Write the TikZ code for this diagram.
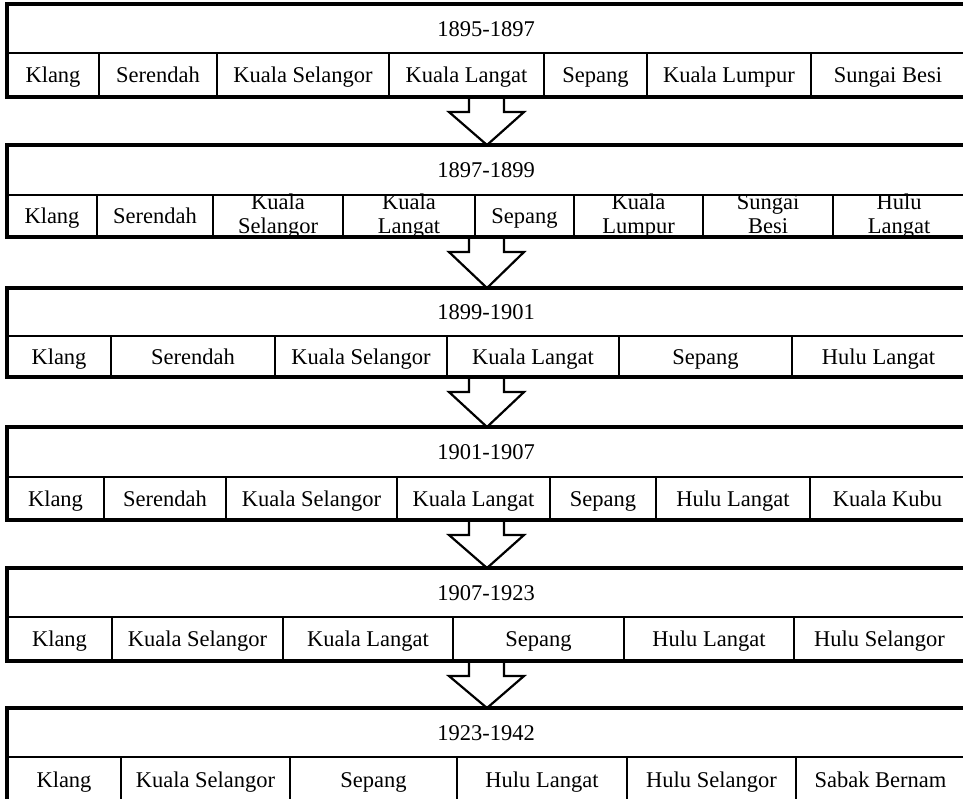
\documentclass[tikz,border=0pt]{standalone}
\usepackage{fontspec}
\setmainfont{Liberation Serif}
\newcommand\twol[2]{\raisebox{-9.5pt}{\begin{tabular}[b]{@{}c@{}}#1\\#2\end{tabular}}}
\newcommand\timetable[6]{%
  \node[cell] (#1h) at (486,{(#2+#3)/2+7.5}) {#5};
  \foreach \l/\r/\t [count=\i] in {#6} {
    \node[cell] (#1c\i) at ({(\l+\r)/2},{(#3+#4)/2+7.5}) {\t};
    \draw[innerline] (\r,#3) -- (\r,#4);
  }
  \draw[innerline] (7,#3) -- (975,#3);
  \draw[outerline] (975,#2) -- (7,#2) -- (7,#4) -- (975,#4);
}
\newcommand\blockdown[2]{%
  \draw[blockarr] (469,#1) -- (469,#1+15) -- (449,#1+15) -- (487,#2) -- (524,#1+15) -- (504,#1+15) -- (504,#1);
}
\begin{document}
\begin{tikzpicture}[x=1pt,y=-1pt,
  cell/.style={font=\fontsize{22.5}{24}\selectfont, inner sep=0pt, anchor=base},
  outerline/.style={line width=3.2pt, line join=miter},
  innerline/.style={line width=1.8pt},
  blockarr/.style={line width=2.2pt, line join=miter}]
\useasboundingbox (0,0) rectangle (963,798);
\clip (0,0) rectangle (963,798);
\fill[white] (0,0) rectangle (963,798);

\timetable{a}{4}{53}{97}{1895-1897}{7/99/Klang, 99/217/Serendah, 217/389/Kuala Selangor, 389/544/Kuala Langat, 544/647/Sepang, 647/811/Kuala Lumpur, 811/965/Sungai Besi}
\blockdown{97}{145}
\timetable{b}{145}{195}{237}{1897-1899}{7/97/Klang, 97/213/Serendah, 213/343/{\twol{Kuala}{Selangor}}, 343/475/{\twol{Kuala}{Langat}}, 475/574/Sepang, 574/703/{\twol{Kuala}{Lumpur}}, 703/833/{\twol{Sungai}{Besi}}, 833/965/{\twol{Hulu}{Langat}}}
\blockdown{237}{288}
\timetable{c}{288}{336}{377}{1899-1901}{7/111/Klang, 111/275/Serendah, 275/447/Kuala Selangor, 447/619/Kuala Langat, 619/792/Sepang, 792/965/Hulu Langat}
\blockdown{377}{427}
\timetable{d}{427}{477}{520}{1901-1907}{7/104/Klang, 104/226/Serendah, 226/397/Kuala Selangor, 397/550/Kuala Langat, 550/656/Sepang, 656/810/Hulu Langat, 810/965/Kuala Kubu}
\blockdown{520}{568}
\timetable{e}{568}{617}{661}{1907-1923}{7/112/Klang, 112/283/Kuala Selangor, 283/453/Kuala Langat, 453/624/Sepang, 624/794/Hulu Langat, 794/965/Hulu Selangor}
\blockdown{661}{708}
\timetable{f}{708}{757}{802}{1923-1942}{7/121/Klang, 121/290/Kuala Selangor, 290/457/Sepang, 457/627/Hulu Langat, 627/796/Hulu Selangor, 796/965/Sabak Bernam}
\end{tikzpicture}
\end{document}
